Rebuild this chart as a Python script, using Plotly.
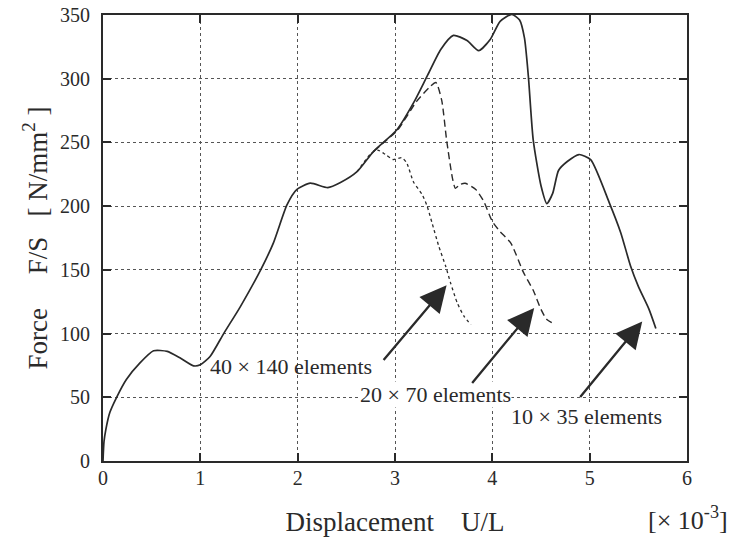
import plotly.graph_objects as go

# 10 x 35 elements (solid)
x_10x35 = [0, 0.01, 0.03, 0.07, 0.14, 0.24, 0.38, 0.52, 0.66, 0.79, 0.93, 1.0, 1.10, 1.24, 1.41,
           1.62, 1.75, 1.89, 1.99, 2.13, 2.31, 2.44, 2.61, 2.78, 3.02, 3.19, 3.33, 3.47, 3.60,
           3.74, 3.86, 3.98, 4.08, 4.20, 4.28, 4.33, 4.37, 4.42, 4.50, 4.56, 4.62, 4.68, 4.77,
           4.89, 5.01, 5.20, 5.32, 5.42, 5.50, 5.61, 5.68]
y_10x35 = [0, 15, 25, 38, 50, 64, 77, 86.5, 86, 81, 74.7, 75.5, 82, 100, 121,
           150, 171, 201, 213, 218, 214.5, 218.5, 227, 243, 260, 281, 302, 323, 334,
           330, 322, 331, 345, 350.5, 346, 332, 302, 252, 216, 202, 210, 228, 235,
           240.5, 236.5, 203, 179, 153, 137, 119, 104]

# 20 x 70 elements (long dashes)
x_20x70 = [2.78, 2.90, 3.02, 3.22, 3.35, 3.42, 3.48, 3.53, 3.59, 3.62, 3.67, 3.72, 3.83, 3.91,
           4.00, 4.08, 4.19, 4.32, 4.42, 4.50, 4.56, 4.65]
y_20x70 = [243, 251, 259, 282, 293, 297, 283, 252, 222, 214, 217, 218, 213, 204,
           188, 180, 171, 148, 134, 119, 111, 107]

# 40 x 140 elements (short dashes)
x_40x140 = [2.61, 2.75, 2.82, 2.90, 2.98, 3.07, 3.12, 3.19, 3.28, 3.33, 3.38, 3.45, 3.52, 3.57,
            3.64, 3.71, 3.78]
y_40x140 = [227, 241, 244, 240.6, 236.6, 238, 234, 219, 209, 200, 187, 168.5, 153, 140,
            124, 113.5, 107]

labels = ["40 \u00d7 140 elements", "20 \u00d7 70 elements", "10 \u00d7 35 elements"]
label_x = [1.93, 3.42, 4.97]
label_y = [74, 52, 35]
arrow_tail_x = [2.87, 3.78, 4.89]
arrow_tail_y = [78, 60, 49]
arrow_tip_x = [3.53, 4.43, 5.54]
arrow_tip_y = [138, 120, 109.5]

FONT = "Liberation Serif, Times New Roman, serif"
INK = "#2a2a2a"

fig = go.Figure()
fig.add_trace(go.Scatter(x=x_40x140, y=y_40x140, mode="lines",
                         line=dict(color=INK, width=1.3, dash="3px,3px", shape="spline", smoothing=0.6)))
fig.add_trace(go.Scatter(x=x_20x70, y=y_20x70, mode="lines",
                         line=dict(color=INK, width=1.4, dash="7px,4px", shape="spline", smoothing=0.6)))
fig.add_trace(go.Scatter(x=x_10x35, y=y_10x35, mode="lines",
                         line=dict(color=INK, width=1.7, shape="spline", smoothing=0.6)))

label_bg = ["rgba(0,0,0,0)", "white", "white"]
for lab, lx, ly, bg in zip(labels, label_x, label_y, label_bg):
    fig.add_annotation(x=lx, y=ly, text=lab, showarrow=False, borderpad=0,
                       font=dict(family=FONT, size=22, color=INK), bgcolor=bg)

for tx, ty, hx, hy in zip(arrow_tail_x, arrow_tail_y, arrow_tip_x, arrow_tip_y):
    fig.add_annotation(x=hx, y=hy, ax=tx, ay=ty, axref="x", ayref="y", xref="x", yref="y",
                       text="", showarrow=True, arrowhead=2, arrowsize=2.3, arrowwidth=2.3,
                       arrowcolor=INK, standoff=0)

fig.add_annotation(xref="paper", yref="paper", x=1.074, y=-0.128, xanchor="right", yanchor="middle",
                   text="[\u00d7 10<sup>-3</sup>]", showarrow=False,
                   font=dict(family=FONT, size=26, color=INK))

axis_common = dict(showline=True, linecolor=INK, linewidth=2, mirror="ticks",
                   ticks="inside", ticklen=8, tickwidth=2, tickcolor=INK,
                   showgrid=True, gridcolor="#555555", gridwidth=1, griddash="dot",
                   zeroline=False, automargin=False, tickfont=dict(family=FONT, size=20, color=INK))

fig.update_xaxes(range=[0, 6], dtick=1, ticklabelstandoff=-2, **axis_common,
                 title=dict(text="Displacement &nbsp;&nbsp;&nbsp;U/L", font=dict(family=FONT, size=27, color=INK),
                            standoff=24))
fig.update_yaxes(range=[0, 350], dtick=50, ticklabelstandoff=7, **axis_common,
                 title=dict(text="Force &nbsp;&nbsp;&nbsp;&nbsp;F/S &nbsp;&nbsp;[ N/mm<sup>2</sup> ]",
                            font=dict(family=FONT, size=27, color=INK), standoff=5))

fig.update_layout(width=733, height=542, showlegend=False,
                  margin=dict(l=103, r=46, t=15, b=81),
                  paper_bgcolor="white", plot_bgcolor="white")

fig.write_html("out.html", config={"displayModeBar": False},
               post_script="document.body.style.margin='0px';")
